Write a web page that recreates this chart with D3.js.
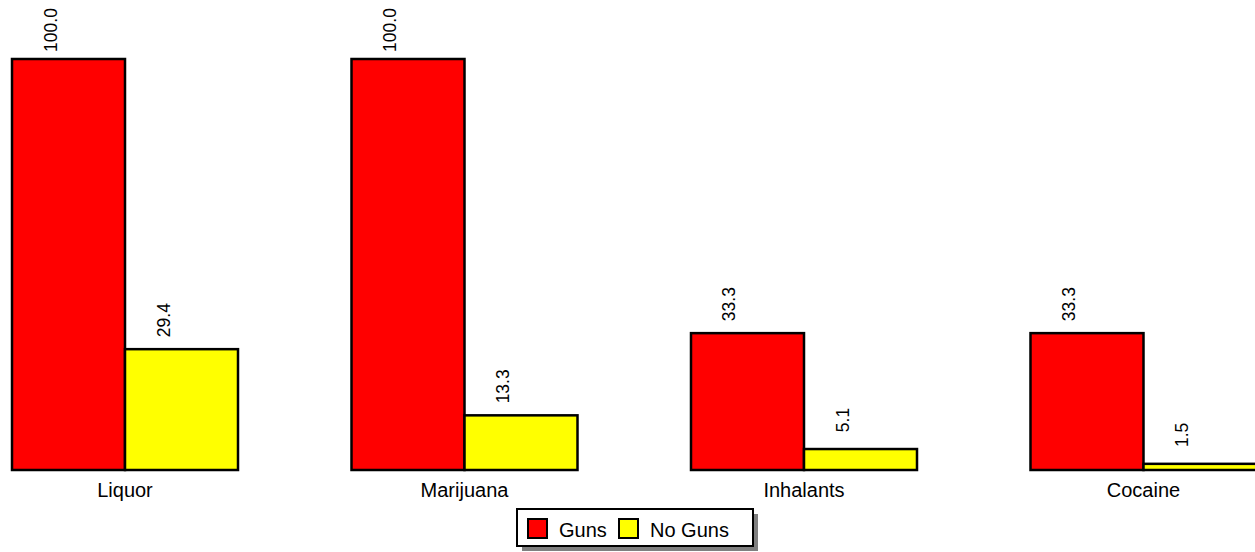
<!DOCTYPE html>
<html>
<head>
<meta charset="utf-8">
<script src="https://cdn.jsdelivr.net/npm/d3@7"></script>
<style>
  html, body { margin: 0; padding: 0; background: #fff; }
  svg { display: block; }
</style>
</head>
<body>
<svg id="chart" width="1255" height="552"></svg>
<script>
const categories = ["Liquor", "Marijuana", "Inhalants", "Cocaine"];
const seriesNames = ["Guns", "No Guns"];
const gunsValues = [100.0, 100.0, 33.3, 33.3];
const noGunsValues = [29.4, 13.3, 5.1, 1.5];
const seriesColors = ["#ff0000", "#ffff00"];

const svg = d3.select("#chart");
const W = 1255, H = 552;
const baseY = 470, topY = 59;
const font = "'Liberation Sans', Arial, sans-serif";

const x = d3.scaleBand().domain(categories).range([12, 1256.5]).paddingInner(0.3343).paddingOuter(0);
const xs = d3.scaleBand().domain(seriesNames).range([0, x.bandwidth()]).padding(0);
const y = d3.scaleLinear().domain([0, 100]).range([baseY, topY]);

const data = categories.map((c, i) => ({cat: c, vals: [gunsValues[i], noGunsValues[i]]}));

const g = svg.append("g");
const groups = g.selectAll("g.grp").data(data).join("g")
  .attr("class", "grp")
  .attr("transform", d => `translate(${x(d.cat)},0)`);

groups.selectAll("rect").data(d => d.vals.map((v, j) => ({v, s: seriesNames[j], j})))
  .join("rect")
  .attr("x", d => xs(d.s))
  .attr("y", d => y(d.v))
  .attr("width", xs.bandwidth())
  .attr("height", d => baseY - y(d.v))
  .attr("fill", d => seriesColors[d.j])
  .attr("stroke", "#000")
  .attr("stroke-width", 2.5);

groups.selectAll("text.val").data(d => d.vals.map((v, j) => ({v, s: seriesNames[j], j})))
  .join("text")
  .attr("class", "val")
  .attr("transform", d => `translate(${xs(d.s) + xs.bandwidth()/2 - 12},${y(d.v) - 29}) rotate(-90)`)
  .attr("text-anchor", "middle")
  .attr("font-family", font)
  .attr("font-size", 17.5)
  .attr("fill", "#000")
  .text(d => d.v.toFixed(1));

// category labels
g.selectAll("text.cat").data(categories).join("text")
  .attr("class", "cat")
  .attr("x", d => x(d) + x.bandwidth()/2)
  .attr("y", 497)
  .attr("text-anchor", "middle")
  .attr("font-family", font)
  .attr("font-size", 20)
  .attr("fill", "#000")
  .text(d => d);

// legend
const lg = svg.append("g");
const lx = 517, ly = 509, lw = 236, lh = 37;
lg.append("rect").attr("x", lx + 5).attr("y", ly + 5).attr("width", lw).attr("height", lh).attr("fill", "#808080");
lg.append("rect").attr("x", lx).attr("y", ly).attr("width", lw).attr("height", lh)
  .attr("fill", "#fff").attr("stroke", "#000").attr("stroke-width", 2);
const itemX = [528, 619];
seriesNames.forEach((s, i) => {
  lg.append("rect").attr("x", itemX[i]).attr("y", 519).attr("width", 19).attr("height", 19)
    .attr("fill", seriesColors[i]).attr("stroke", "#000").attr("stroke-width", 2);
  lg.append("text").attr("x", itemX[i] + 31).attr("y", 537)
    .attr("font-family", font).attr("font-size", 20).attr("fill", "#000").text(s);
});
</script>
</body>
</html>
